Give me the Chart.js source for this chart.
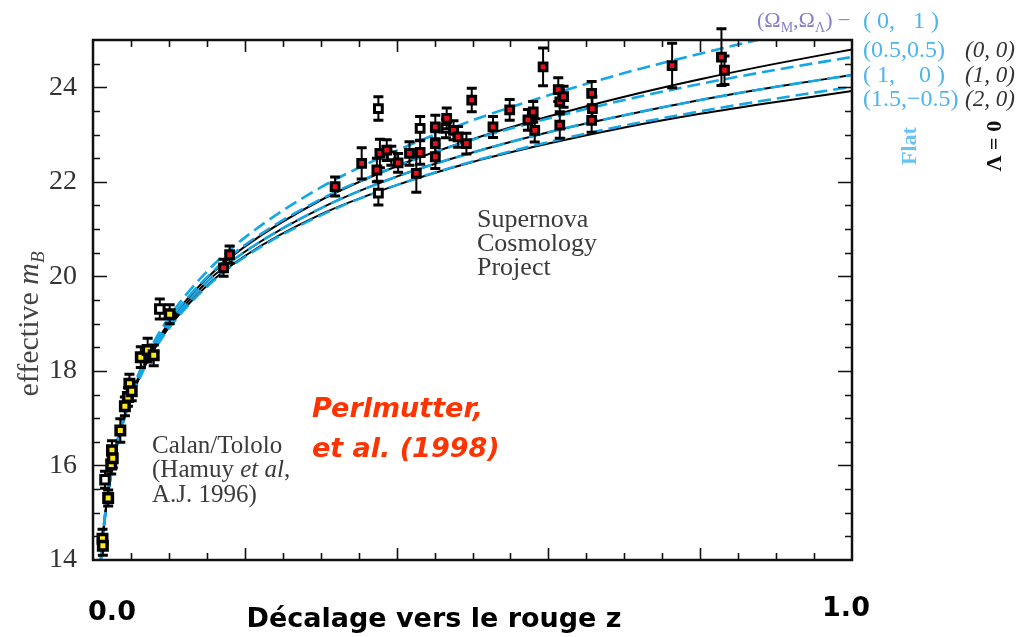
<!DOCTYPE html>
<html>
<head>
<meta charset="utf-8">
<script src="https://cdn.jsdelivr.net/npm/chart.js@4.4.1/dist/chart.umd.min.js"></script>
<style>
  html, body { margin: 0; padding: 0; background: #fff; }
  #wrap { width: 1019px; height: 637px; }
</style>
</head>
<body>
<div id="wrap"><canvas id="hubble"></canvas></div>
<script>
// redshift grid shared by the model curves
const zGrid = [0.01, 0.015, 0.02, 0.03, 0.04, 0.05, 0.07, 0.10, 0.15, 0.20, 0.30, 0.40, 0.50, 0.60, 0.70, 0.80, 0.90, 1.00];

// flat models, (Omega_M, Omega_Lambda)
const mFlat0_1    = [13.94, 14.83, 15.47, 16.37, 17.02, 17.52, 18.29, 19.13, 20.10, 20.82, 21.88, 22.66, 23.30, 23.83, 24.30, 24.71, 25.09, 25.43];
const mFlat05_05  = [13.93, 14.82, 15.45, 16.35, 16.98, 17.48, 18.24, 19.05, 19.98, 20.66, 21.63, 22.33, 22.89, 23.34, 23.73, 24.07, 24.37, 24.64];
const mFlat1_0    = [13.93, 14.81, 15.44, 16.32, 16.95, 17.44, 18.18, 18.97, 19.88, 20.52, 21.44, 22.11, 22.62, 23.05, 23.41, 23.73, 24.01, 24.26];
const mFlat15_m05 = [13.92, 14.80, 15.42, 16.30, 16.92, 17.40, 18.13, 18.90, 19.78, 20.41, 21.29, 21.93, 22.43, 22.84, 23.19, 23.49, 23.76, 24.01];

// Lambda = 0 models, Omega_M = 0, 1, 2  ((1,0) is also the flat one)
const mLam0_0 = [13.93, 14.82, 15.45, 16.34, 16.97, 17.47, 18.22, 19.03, 19.96, 20.63, 21.61, 22.33, 22.90, 23.38, 23.80, 24.17, 24.50, 24.80];
const mLam1_0 = mFlat1_0;
const mLam2_0 = [13.92, 14.80, 15.43, 16.31, 16.93, 17.42, 18.15, 18.92, 19.80, 20.43, 21.31, 21.93, 22.42, 22.81, 23.15, 23.44, 23.69, 23.92];

// Calan/Tololo low-redshift supernovae
const calanZ   = [0.0125, 0.0130, 0.0200, 0.0240, 0.0250, 0.0260, 0.0360, 0.0420, 0.0460, 0.0480, 0.0510, 0.0630, 0.0720, 0.0800, 0.1010];
const calanM   = [14.45, 14.30, 15.31, 16.02, 16.32, 16.15, 16.74, 17.25, 17.45, 17.73, 17.57, 18.29, 18.44, 18.33, 19.20];
const calanErr = [0.20, 0.20, 0.17, 0.20, 0.20, 0.20, 0.25, 0.20, 0.20, 0.20, 0.20, 0.22, 0.25, 0.22, 0.20];
const calanOutZ   = [0.0158, 0.0880];
const calanOutM   = [15.70, 19.31];
const calanOutErr = [0.18, 0.21];

// Supernova Cosmology Project high-redshift supernovae
const scpZ   = [0.172, 0.180, 0.319, 0.354, 0.374, 0.378, 0.387, 0.402, 0.417, 0.426, 0.431, 0.451, 0.451, 0.451, 0.466, 0.475, 0.481, 0.492,
                0.499, 0.527, 0.549, 0.573, 0.580, 0.582, 0.593, 0.613, 0.615, 0.620, 0.615, 0.657, 0.658, 0.657, 0.763, 0.828, 0.832];
const scpM   = [20.18, 20.46, 21.90, 22.39, 22.25, 22.60, 22.67, 22.40, 22.60, 22.18, 22.62, 23.16, 22.81, 22.53, 23.34, 23.09, 22.95, 22.81,
                23.73, 23.16, 23.52, 23.31, 23.48, 23.09, 24.43, 23.95, 23.69, 23.80, 23.20, 23.87, 23.55, 23.30, 24.46, 24.64, 24.36];
const scpErr = [0.18, 0.18, 0.20, 0.33, 0.25, 0.30, 0.22, 0.20, 0.25, 0.40, 0.25, 0.25, 0.25, 0.25, 0.22, 0.20, 0.22, 0.22,
                0.25, 0.22, 0.22, 0.22, 0.22, 0.25, 0.40, 0.25, 0.25, 0.22, 0.28, 0.25, 0.25, 0.25, 0.47, 0.60, 0.30];
const scpOutZ   = [0.376, 0.376, 0.393, 0.431, 0.465];
const scpOutM   = [23.55, 21.76, 22.55, 23.13, 23.13];
const scpOutErr = [0.25, 0.25, 0.20, 0.25, 0.20];

const yTickValues = [14, 16, 18, 20, 22, 24];

const SERIF = '"Liberation Serif", "Times New Roman", serif';
const COMIC = '"Comic Sans MS", "DejaVu Sans", sans-serif';
const BLUE = '#14a7e6';

const pts = (zs, ms) => zs.map((z, i) => ({x: z, y: ms[i]}));

function curve(ms, color, dashed, order) {
  return {
    type: 'line',
    data: pts(zGrid, ms),
    borderColor: color,
    borderWidth: dashed ? 2.6 : 2,
    borderDash: dashed ? [13, 6] : [],
    pointRadius: 0,
    fill: false,
    cubicInterpolationMode: 'monotone',
    clip: 0,
    order: order
  };
}

function sample(zs, ms, errs, fill, radius, border) {
  return {
    data: pts(zs, ms),
    errorBars: errs,
    backgroundColor: fill,
    borderColor: '#000',
    borderWidth: border,
    pointStyle: 'rect',
    pointRadius: radius,
    clip: false,
    order: 0
  };
}

// vertical error bars, drawn right before each sample's markers
const errorBars = {
  id: 'errorBars',
  beforeDatasetDraw(chart, args) {
    const ds = chart.data.datasets[args.index];
    if (!ds.errorBars) return;
    const {ctx, scales: {y}} = chart;
    ctx.save();
    ctx.strokeStyle = '#000';
    args.meta.data.forEach((pt, i) => {
      const v = ds.data[i].y, e = ds.errorBars[i];
      const top = y.getPixelForValue(v + e), bot = y.getPixelForValue(v - e);
      ctx.lineWidth = 2;
      ctx.beginPath();
      ctx.moveTo(pt.x, top); ctx.lineTo(pt.x, bot);
      ctx.stroke();
      ctx.lineWidth = 3;
      ctx.beginPath();
      ctx.moveTo(pt.x - 5, top); ctx.lineTo(pt.x + 5, top);
      ctx.moveTo(pt.x - 5, bot); ctx.lineTo(pt.x + 5, bot);
      ctx.stroke();
    });
    ctx.restore();
  }
};

// box around the plot with inward ticks on all four sides
const frame = {
  id: 'frame',
  afterDatasetsDraw(chart) {
    const {ctx, chartArea: a, scales: {x, y}} = chart;
    ctx.save();
    ctx.strokeStyle = '#111';
    ctx.lineWidth = 1.6;
    ctx.beginPath();
    for (let i = 1; i < 20; i++) {
      const px = Math.round(x.getPixelForValue(i * 0.05)) + 0.5;
      const len = i % 4 === 0 ? 12 : 7;
      ctx.moveTo(px, a.bottom); ctx.lineTo(px, a.bottom - len);
      ctx.moveTo(px, a.top); ctx.lineTo(px, a.top + len);
    }
    for (let i = 1; i < 22; i++) {
      const v = 14 + i * 0.5;
      const py = Math.round(y.getPixelForValue(v)) + 0.5;
      const len = i % 4 === 0 ? 14 : 7;
      ctx.moveTo(a.left, py); ctx.lineTo(a.left + len, py);
      ctx.moveTo(a.right, py); ctx.lineTo(a.right - len, py);
    }
    ctx.stroke();
    ctx.lineWidth = 2.5;
    ctx.strokeRect(a.left, a.top, a.right - a.left, a.bottom - a.top);
    ctx.restore();
  }
};

// draws a row of [text, font, dy] runs starting at x
function runs(ctx, list, x, y, color) {
  ctx.fillStyle = color;
  list.forEach(([t, font, dy]) => {
    ctx.font = font;
    ctx.fillText(t, x, y + (dy || 0));
    x += ctx.measureText(t).width;
  });
  return x;
}

const labels = {
  id: 'labels',
  afterDraw(chart) {
    const ctx = chart.ctx;
    ctx.save();
    ctx.textBaseline = 'alphabetic';
    ctx.textAlign = 'left';

    // y axis title, rotated
    ctx.save();
    ctx.translate(38, 324);
    ctx.rotate(-Math.PI / 2);
    const yTitle = [['effective ', '30px ' + SERIF], ['m', 'italic 30px ' + SERIF], ['B', 'italic 19px ' + SERIF, 6]];
    let w = 0;
    yTitle.forEach(([t, f]) => { ctx.font = f; w += ctx.measureText(t).width; });
    runs(ctx, yTitle, -w / 2, 0, '#444');
    ctx.restore();

    // x axis title and end values
    ctx.fillStyle = '#000';
    ctx.font = 'bold 27px ' + COMIC;
    ctx.textAlign = 'center';
    ctx.fillText('Décalage vers le rouge z', 434, 627);
    ctx.fillText('0.0', 112, 620);
    ctx.fillText('1.0', 846, 616);

    // reference
    ctx.textAlign = 'left';
    ctx.fillStyle = '#ff3300';
    ctx.font = 'italic bold 27px ' + COMIC;
    ctx.fillText('Perlmutter,', 312, 417);
    ctx.fillText('et al. (1998)', 312, 457);

    // data set names
    ctx.fillStyle = '#3a3a3a';
    ctx.font = '26px ' + SERIF;
    ctx.fillText('Supernova', 477, 227);
    ctx.fillText('Cosmology', 477, 251);
    ctx.fillText('Project', 477, 275);
    ctx.font = '25px ' + SERIF;
    ctx.fillText('Calan/Tololo', 152, 453);
    runs(ctx, [['(Hamuy ', '25px ' + SERIF], ['et al', 'italic 25px ' + SERIF], [',', '25px ' + SERIF]], 152, 477, '#3a3a3a');
    ctx.fillStyle = '#3a3a3a';
    ctx.font = '25px ' + SERIF;
    ctx.fillText('A.J. 1996)', 152, 502);

    // model key
    const f = '22px ' + SERIF, fs = '14px ' + SERIF;
    runs(ctx, [['(\u03A9', f], ['M', fs, 5], [',\u03A9', f], ['\u039B', fs, 5], [') \u2212', f]], 757, 27, '#8680c8');
    ctx.fillStyle = '#4cb5ec';
    ctx.font = '24px ' + SERIF;
    ctx.fillText('( 0,   1 )', 863, 28);
    ctx.fillText('(0.5,0.5)', 863, 57);
    ctx.fillText('( 1,    0 )', 863, 82);
    ctx.fillText('(1.5,\u22120.5)', 863, 106);
    ctx.fillStyle = '#333';
    ctx.font = 'italic 23px ' + SERIF;
    ctx.fillText('(0, 0)', 965, 57);
    ctx.fillText('(1, 0)', 965, 82);
    ctx.fillText('(2, 0)', 965, 106);

    ctx.textAlign = 'center';
    ctx.save();
    ctx.translate(916, 146);
    ctx.rotate(-Math.PI / 2);
    ctx.fillStyle = '#66c4f0';
    ctx.font = 'bold 22px ' + SERIF;
    ctx.fillText('Flat', 0, 0);
    ctx.restore();
    ctx.save();
    ctx.translate(1001, 146);
    ctx.rotate(-Math.PI / 2);
    ctx.fillStyle = '#111';
    ctx.font = 'bold 22px ' + SERIF;
    ctx.fillText('\u039B = 0', 0, 0);
    ctx.restore();

    ctx.restore();
  }
};

new Chart(document.getElementById('hubble'), {
  type: 'scatter',
  data: {
    datasets: [
      sample(scpZ, scpM, scpErr, '#e3121c', 5.5, 3),
      sample(scpOutZ, scpOutM, scpOutErr, '#fff', 5.5, 3),
      sample(calanZ, calanM, calanErr, '#ffe81a', 6, 3.5),
      sample(calanOutZ, calanOutM, calanOutErr, '#fff', 6, 3),
      curve(mFlat0_1, BLUE, true, 1),
      curve(mFlat05_05, BLUE, true, 1),
      curve(mFlat1_0, BLUE, true, 1),
      curve(mFlat15_m05, BLUE, true, 1),
      curve(mLam0_0, '#000', false, 2),
      curve(mLam1_0, '#000', false, 2),
      curve(mLam2_0, '#000', false, 2)
    ]
  },
  options: {
    responsive: true,
    maintainAspectRatio: false,
    animation: false,
    events: [],
    layout: { padding: { top: 40, right: 167, bottom: 77, left: 0 } },
    plugins: { legend: { display: false }, tooltip: { enabled: false } },
    scales: {
      x: { type: 'linear', min: 0, max: 1, display: false },
      y: {
        type: 'linear', min: 14, max: 25,
        grid: { display: false },
        border: { display: false },
        afterFit: s => { s.width = 93; },
        afterBuildTicks: s => { s.ticks = yTickValues.map(v => ({value: v})); },
        ticks: { font: { family: SERIF, size: 28 }, color: '#333', padding: 8 }
      }
    }
  },
  plugins: [errorBars, frame, labels]
});
</script>
</body>
</html>
